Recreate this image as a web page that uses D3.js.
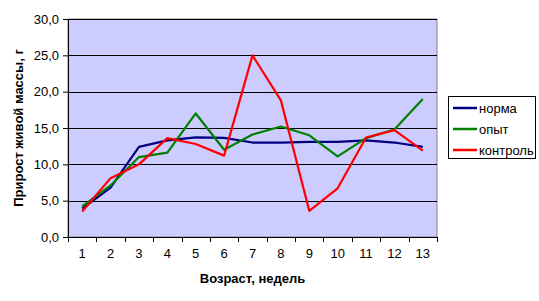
<!DOCTYPE html>
<html>
<head>
<meta charset="utf-8">
<script src="https://cdn.jsdelivr.net/npm/d3@7"></script>
<style>
  body { margin: 0; background: #fff; }
  svg { display: block; font-family: Arial, "Liberation Sans", sans-serif; }
</style>
</head>
<body>
<svg></svg>
<script>
var width = 539;
var height = 301;

// weeks
var weeks = [1, 2, 3, 4, 5, 6, 7, 8, 9, 10, 11, 12, 13];
var norma    = [3.9, 6.8, 12.4, 13.3, 13.7, 13.65, 13.0, 13.0, 13.1, 13.1, 13.3, 13.0, 12.4];
var opyt     = [4.2, 7.1, 11.0, 11.6, 17.0, 12.0, 14.1, 15.2, 14.0, 11.1, 13.6, 14.8, 19.0];
var kontrol  = [3.5, 8.1, 10.0, 13.6, 12.8, 11.2, 25.0, 18.8, 3.6, 6.7, 13.7, 14.7, 11.9];
var seriesNames = ["норма", "опыт", "контроль"];
var yTicks = [0, 5, 10, 15, 20, 25, 30];

var series = [
  {name: seriesNames[0], values: norma, color: "#000080"},
  {name: seriesNames[1], values: opyt, color: "#008000"},
  {name: seriesNames[2], values: kontrol, color: "#ff0000"}
];

var plot = {left: 68, top: 19, right: 437, bottom: 237};

var svg = d3.select("svg")
  .attr("width", width)
  .attr("height", height);

var x = d3.scaleBand()
  .domain(weeks)
  .range([plot.left, plot.right]);

var y = d3.scaleLinear()
  .domain([0, 30])
  .range([plot.bottom, plot.top]);

// plot background
svg.append("rect")
  .attr("x", plot.left)
  .attr("y", plot.top)
  .attr("width", plot.right - plot.left)
  .attr("height", plot.bottom - plot.top)
  .attr("fill", "#ccccff")
  .attr("stroke", "#808080")
  .attr("stroke-width", 1);

// grid lines
svg.append("g")
  .selectAll("line")
  .data(yTicks.filter(function(d){ return d > 0; }))
  .enter().append("line")
  .attr("x1", plot.left)
  .attr("x2", plot.right)
  .attr("y1", function(d){ return Math.round(y(d)) + 0.5; })
  .attr("y2", function(d){ return Math.round(y(d)) + 0.5; })
  .attr("stroke", "#000")
  .attr("stroke-width", 1);

// y axis
var yAxis = svg.append("g")
  .attr("transform", "translate(" + plot.left + ",0)")
  .call(d3.axisLeft(y)
    .tickValues(yTicks)
    .tickSize(5)
    .tickPadding(4)
    .tickFormat(function(d){ return d3.format(".1f")(d).replace(".", ","); }));
yAxis.select(".domain").attr("stroke", "#000");
yAxis.selectAll("text").attr("font-size", 13).attr("fill", "#000")
  .attr("font-family", "Arial, 'Liberation Sans', sans-serif");

// x axis
var xAxis = svg.append("g")
  .attr("transform", "translate(0," + plot.bottom + ")")
  .call(d3.axisBottom(x).tickSize(0).tickPadding(12));
xAxis.select(".domain").attr("stroke", "#000");
xAxis.selectAll("text").attr("font-size", 13).attr("fill", "#000")
  .attr("font-family", "Arial, 'Liberation Sans', sans-serif");

// x tick marks at band boundaries
xAxis.append("g")
  .selectAll("line")
  .data(weeks.concat([null]))
  .enter().append("line")
  .attr("x1", function(d, i){ return Math.round(plot.left + i * x.step()) + 0.5; })
  .attr("x2", function(d, i){ return Math.round(plot.left + i * x.step()) + 0.5; })
  .attr("y1", 0)
  .attr("y2", 5)
  .attr("stroke", "#000");

// lines
var line = d3.line()
  .x(function(d, i){ return x(weeks[i]) + x.bandwidth() / 2; })
  .y(function(d){ return y(d); });

svg.append("g")
  .selectAll("path")
  .data(series)
  .enter().append("path")
  .attr("d", function(d){ return line(d.values); })
  .attr("fill", "none")
  .attr("stroke", function(d){ return d.color; })
  .attr("stroke-width", 2.2)
  .attr("stroke-linejoin", "round");

// axis titles
svg.append("text")
  .attr("x", (plot.left + plot.right) / 2)
  .attr("y", 283)
  .attr("text-anchor", "middle")
  .attr("font-size", 13)
  .attr("font-weight", "bold")
  .text("Возраст, недель");

svg.append("text")
  .attr("transform", "translate(23," + ((plot.top + plot.bottom) / 2) + ") rotate(-90)")
  .attr("text-anchor", "middle")
  .attr("font-size", 13)
  .attr("font-weight", "bold")
  .text("Прирост живой массы, г");

// legend
var legend = svg.append("g").attr("transform", "translate(448,96)");
legend.append("rect")
  .attr("x", 0.5)
  .attr("y", 0.5)
  .attr("width", 87)
  .attr("height", 62)
  .attr("fill", "#fff")
  .attr("stroke", "#000");

var item = legend.selectAll("g.item")
  .data(series)
  .enter().append("g")
  .attr("class", "item")
  .attr("transform", function(d, i){ return "translate(0," + (12 + i * 21) + ")"; });

item.append("line")
  .attr("x1", 5)
  .attr("x2", 29)
  .attr("stroke", function(d){ return d.color; })
  .attr("stroke-width", 2.5);

item.append("text")
  .attr("x", 31)
  .attr("dy", "0.35em")
  .attr("font-size", 13)
  .text(function(d){ return d.name; });
</script>
</body>
</html>
